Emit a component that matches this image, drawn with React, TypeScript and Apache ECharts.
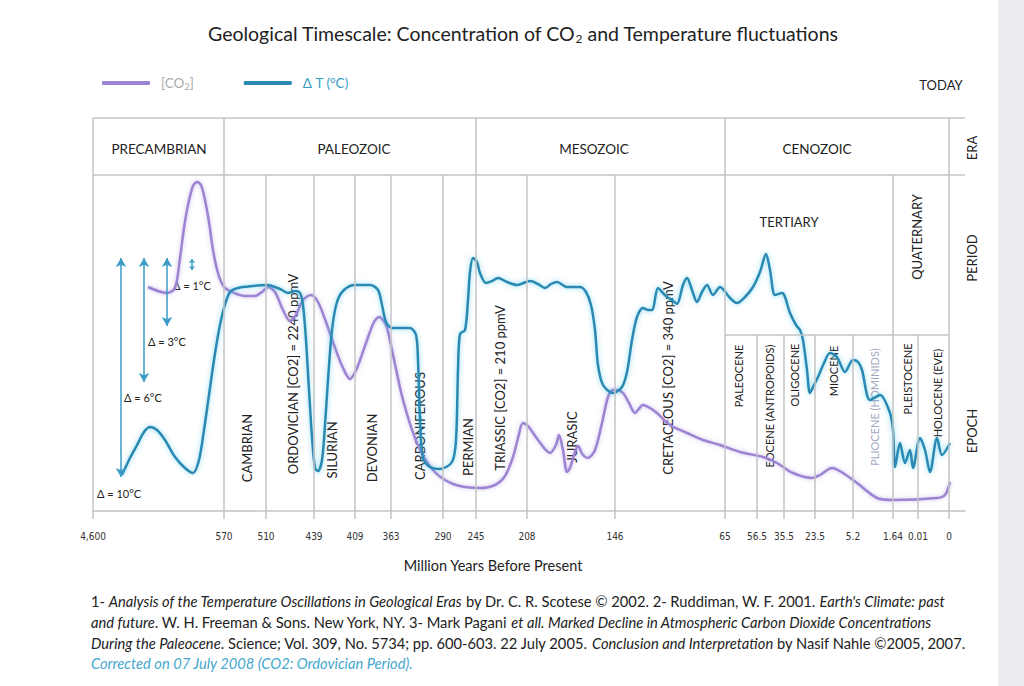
import React, { useEffect, useRef } from "react";
import * as echarts from "echarts";

// x: schematic timeline position (non-linear geological scale), y: relative level
const tickLabels = ["4,600", "570", "510", "439", "409", "363", "290", "245", "208", "146", "65", "56.5", "35.5", "23.5", "5.2", "1.64", "0.01", "0"];
const tickPositions = [0, 131, 173, 221, 262, 298, 350, 383, 434, 522, 632, 664, 691, 722, 760, 800, 825, 856];

const eraBounds = [0, 131, 383, 632, 856];
const periodBounds = [173, 221, 262, 298, 350, 434, 522, 800];
const epochBounds = [664, 691, 722, 760, 825];

const co2Series: [number, number][] = [
  [55, 224], [65, 220], [74, 218], [82, 223], [87, 253], [91, 283], [95, 306], [100, 325], [104, 329], [108, 326],
  [112, 311], [116, 289], [120, 261], [125, 238], [131, 224], [139, 219], [152, 215], [162, 215], [169, 219], [175, 224],
  [182, 219], [190, 201], [197, 190], [203, 196], [210, 211], [218, 216], [225, 209], [233, 189], [241, 166], [250, 143],
  [257, 132], [264, 143], [273, 168], [281, 189], [286, 194], [293, 186], [300, 156], [310, 111], [324, 68], [340, 41],
  [360, 27], [387, 23], [402, 26], [412, 35], [420, 54], [425, 73], [430, 88], [435, 85], [445, 71], [457, 58],
  [463, 66], [466, 76], [470, 61], [474, 39], [477, 43], [481, 56], [485, 65], [490, 56], [495, 53], [502, 61],
  [509, 88], [515, 114], [520, 121], [524, 121], [530, 118], [536, 108], [542, 98], [550, 106], [557, 103], [564, 98],
  [577, 86], [594, 78], [610, 71], [627, 66], [647, 59], [670, 54], [684, 48], [700, 38], [719, 33], [727, 36],
  [739, 43], [750, 38], [764, 28], [784, 13], [800, 11], [844, 13], [852, 16], [857, 29]
];

const tempSeries: [number, number][] = [
  [29, 36], [37, 53], [44, 66], [51, 79], [57, 84], [64, 81], [72, 71], [82, 54], [92, 43], [100, 38],
  [106, 51], [111, 81], [116, 116], [121, 151], [126, 181], [131, 203], [137, 219], [145, 223], [160, 225], [174, 226],
  [187, 222], [195, 218], [202, 220], [207, 218], [210, 206], [213, 171], [216, 121], [219, 74], [222, 43], [225, 40],
  [229, 51], [232, 86], [235, 131], [239, 181], [244, 209], [251, 221], [262, 226], [277, 226], [285, 221], [289, 206],
  [293, 189], [299, 183], [317, 183], [323, 176], [325, 151], [327, 91], [330, 53], [337, 44], [347, 42], [359, 49],
  [363, 71], [365, 141], [367, 177], [372, 181], [375, 211], [377, 239], [380, 253], [384, 249], [387, 238], [393, 228],
  [399, 230], [405, 233], [414, 229], [424, 226], [437, 230], [445, 227], [452, 223], [458, 227], [464, 229], [474, 224],
  [487, 224], [493, 219], [498, 206], [502, 181], [505, 146], [510, 126], [520, 118], [529, 124], [534, 139], [539, 171],
  [544, 194], [550, 203], [555, 201], [559, 201], [565, 223], [570, 218], [574, 214], [579, 211], [584, 207], [590, 226],
  [594, 233], [599, 221], [604, 209], [609, 219], [614, 226], [620, 216], [627, 224], [637, 213], [644, 208], [652, 214],
  [660, 224], [667, 239], [673, 257], [677, 241], [682, 216], [689, 218], [697, 198], [703, 186], [707, 181], [710, 171],
  [714, 141], [717, 118], [721, 126], [725, 134], [731, 148], [737, 158], [744, 154], [752, 139], [760, 151], [765, 149],
  [769, 141], [777, 111], [787, 116], [797, 98], [800, 81], [802, 44], [807, 68], [812, 48], [817, 61], [820, 43],
  [827, 73], [832, 61], [837, 39], [844, 73], [849, 56], [857, 68]
];

// Delta-T ranges drawn as arrows: [x, yBottom, yTop]
const deltaArrows: [number, number, number][] = [
  [28, 34, 253], [51, 129, 253], [74, 185, 253], [99, 241, 252]
];

const eraNames = ["PRECAMBRIAN", "PALEOZOIC", "MESOZOIC", "CENOZOIC"];

const FONT = 'Lato, "Open Sans", "Noto Sans", sans-serif';
const COND = '"Liberation Sans Narrow", "DejaVu Sans Condensed", sans-serif';
const GRID_C = "#c4c4c4";
const PURPLE = "#9c84d3";
const TEAL = "#2b89b2";

const TOP = 393;
const ROW_ERA = 336;
const ROW_EPOCH = 176;
const XMAX = 872;

function vline(x: number, y0: number, y1: number) {
  return [{ coord: [x, y0] }, { coord: [x, y1] }];
}
function hline(x0: number, x1: number, y: number) {
  return [{ coord: [x0, y] }, { coord: [x1, y] }];
}

function txt(text: string, x: number, y: number, extra: any = {}) {
  return {
    type: "text",
    x,
    y,
    silent: true,
    style: {
      text,
      fontFamily: FONT,
      fontSize: 13,
      fill: "#222",
      align: "center",
      verticalAlign: "middle",
      ...extra,
    },
  };
}
function vtxt(text: string, x: number, y: number, extra: any = {}) {
  const t: any = txt(text, x, y, extra);
  t.rotation = Math.PI / 2;
  return t;
}

export default function App() {
  const ref = useRef<HTMLDivElement>(null);
  useEffect(() => {
    if (!ref.current) return;
    const chart = echarts.init(ref.current, null, { renderer: "svg" });

    const structure: any[] = [];
    eraBounds.forEach((x) => structure.push(vline(x, 0, TOP)));
    periodBounds.forEach((x) => structure.push(vline(x, 0, ROW_ERA)));
    epochBounds.forEach((x) => structure.push(vline(x, 0, ROW_EPOCH)));
    structure.push(hline(0, XMAX, TOP));
    structure.push(hline(0, XMAX, ROW_ERA));
    structure.push(hline(632, 856, ROW_EPOCH));

    const arrows = deltaArrows.map(([x, y0, y1]) => {
      const small = y1 - y0 < 20;
      const sz = small ? [5, 4] : [8, 9];
      return [
        { coord: [x, y0], symbolSize: sz },
        { coord: [x, y1], symbolSize: sz },
      ];
    });

    const eraX = [159, 354, 594, 817];
    const FS = 14.7;
    const italic = { fontStyle: "italic", fontFamily: FONT, fontSize: FS, fill: "#222" };
    const normal = { fontFamily: FONT, fontSize: FS, fill: "#222" };

    const graphic: any[] = [
      { type: "rect", shape: { x: 998, y: 0, width: 26, height: 686 }, style: { fill: "#ebebf0" }, silent: true },
      txt("TODAY", 941, 85),
      ...eraNames.map((n, i) => txt(n, eraX[i], 149, { fontSize: 13.5 })),
      vtxt("ERA", 972, 148),
      vtxt("PERIOD", 972, 258),
      vtxt("EPOCH", 972, 431),
      vtxt("CAMBRIAN", 247, 448),
      vtxt("ORDOVICIAN [CO2] = 2240 ppmV", 293, 374),
      vtxt("SILURIAN", 332, 450),
      vtxt("DEVONIAN", 372, 448),
      vtxt("CARBONIFEROUS", 420, 426),
      vtxt("PERMIAN", 468, 447),
      vtxt("TRIASSIC [CO2] = 210 ppmV", 500, 388),
      vtxt("JURASIC", 572, 437),
      vtxt("CRETACEOUS [CO2] = 340 ppmV", 668, 378),
      txt("TERTIARY", 789, 222),
      vtxt("QUATERNARY", 917, 237),
      vtxt("PALEOCENE", 738, 376, { fontSize: 11 }),
      vtxt("EOCENE (ANTROPOIDS)", 769, 406, { fontSize: 11 }),
      vtxt("OLIGOCENE", 794, 375, { fontSize: 11 }),
      vtxt("MIOCENE", 833, 371, { fontSize: 11 }),
      vtxt("PLIOCENE (HOMINIDS)", 874, 407, { fontSize: 11, fill: "#a8a8c0" }),
      vtxt("PLEISTOCENE", 907, 379, { fontSize: 11 }),
      vtxt("HOLOCENE (EVE)", 937, 393, { fontSize: 11 }),
      txt("Δ = 10°C", 97, 493, { align: "left", fontSize: 11 }),
      txt("Δ = 6°C", 124, 397, { align: "left", fontSize: 11 }),
      txt("Δ = 3°C", 148, 341, { align: "left", fontSize: 11 }),
      txt("Δ = 1°C", 173, 285, { align: "left", fontSize: 11 }),
      txt("Million Years Before Present", 493, 565, { fontSize: 14.5 }),
      {
        type: "text", x: 91, y: 601, silent: true,
        style: {
          text: "1- {i|Analysis of the Temperature Oscillations in Geological Eras} by Dr. C. R. Scotese © 2002. 2- Ruddiman, W. F. 2001. {i|Earth's Climate: past}",
          ...normal, verticalAlign: "middle", rich: { i: italic },
        },
      },
      {
        type: "text", x: 91, y: 622, silent: true,
        style: {
          text: "{i|and future}. W. H. Freeman & Sons. New York, NY. 3- Mark Pagani {i|et all. Marked Decline in Atmospheric Carbon Dioxide Concentrations}",
          ...normal, verticalAlign: "middle", rich: { i: italic },
        },
      },
      {
        type: "text", x: 91, y: 643, silent: true,
        style: {
          text: "{i|During the Paleocene}. Science; Vol. 309, No. 5734; pp. 600-603. 22 July 2005. {i|Conclusion and Interpretation} by Nasif Nahle ©2005, 2007.",
          ...normal, verticalAlign: "middle", rich: { i: italic },
        },
      },
      {
        type: "text", x: 91, y: 663, silent: true,
        style: {
          text: "Corrected on 07 July 2008 (CO2: Ordovician Period).",
          ...normal, fontStyle: "italic", fill: "#45a8cf", verticalAlign: "middle",
        },
      },
    ];

    chart.setOption({
      animation: false,
      backgroundColor: "#ffffff",
      title: {
        text: "Geological Timescale: Concentration of CO{s|2} and Temperature fluctuations",
        left: 203,
        top: 18,
        textStyle: {
          fontFamily: FONT, fontSize: 19.5, fontWeight: "normal", color: "#222",
          rich: { s: { fontFamily: FONT, fontSize: 12, color: "#222", padding: [9, 0, 0, 0] } },
        },
      },
      legend: {
        left: 97,
        top: 71,
        itemWidth: 48,
        itemHeight: 4,
        itemGap: 50,
        icon: "roundRect",
        data: [
          { name: "CO2", textStyle: { color: "#aaaaaa" } },
          { name: "dT", textStyle: { color: "#3a9cc6" } },
        ],
        formatter: (name: string) => (name === "CO2" ? "[CO{s|2}]" : "Δ T (°C)"),
        textStyle: {
          fontFamily: FONT, fontSize: 13.5, padding: [0, 0, 0, 6],
          rich: { s: { fontFamily: FONT, fontSize: 9, color: "#aaaaaa", padding: [7, 0, 0, 0] } },
        },
      },
      grid: { left: 93, right: 59, top: 118, bottom: 175 },
      xAxis: {
        type: "value",
        min: 0,
        max: XMAX,
        splitLine: { show: false },
        axisLine: { show: true, lineStyle: { color: GRID_C, width: 1.5 } },
        axisTick: { show: true, customValues: tickPositions, length: 8, lineStyle: { color: GRID_C, width: 1.5 } },
        axisLabel: {
          customValues: tickPositions,
          formatter: (v: number) => {
            const i = tickPositions.indexOf(v);
            return i >= 0 ? tickLabels[i] : "";
          },
          fontFamily: COND,
          fontSize: 10,
          color: "#333",
          margin: 20,
        },
      },
      yAxis: { type: "value", min: 0, max: TOP, show: false },
      series: [
        {
          name: "CO2",
          type: "line",
          data: co2Series,
          smooth: 0.3,
          showSymbol: false,
          z: 2,
          itemStyle: { color: PURPLE },
          lineStyle: { color: PURPLE, width: 2.5, shadowBlur: 4, shadowColor: "rgba(160,135,220,0.55)" },
          markLine: {
            silent: true,
            symbol: ["none", "none"],
            label: { show: false },
            lineStyle: { color: GRID_C, width: 1.5, type: "solid" },
            data: structure,
          },
        },
        {
          name: "dT",
          type: "line",
          data: tempSeries,
          smooth: 0.3,
          showSymbol: false,
          z: 3,
          itemStyle: { color: TEAL },
          lineStyle: { color: TEAL, width: 2.5, shadowBlur: 5, shadowColor: "rgba(80,200,235,0.7)" },
          markLine: {
            silent: true,
            symbol: ["arrow", "arrow"],
            symbolSize: [8, 9],
            label: { show: false },
            lineStyle: { color: "#3a9cc6", width: 1.5, type: "solid" },
            data: arrows,
          },
        },
      ],
      graphic,
    });

    return () => chart.dispose();
  }, []);

  return (
    <div
      ref={ref}
      style={{ position: "fixed", left: 0, top: 0, width: 1024, height: 686, background: "#fff" }}
    />
  );
}
